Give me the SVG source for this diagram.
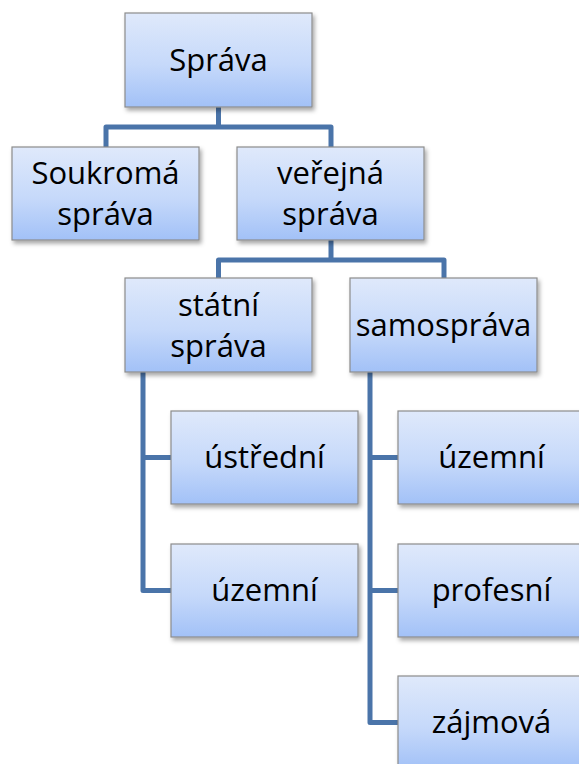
<svg xmlns="http://www.w3.org/2000/svg" width="579" height="764" viewBox="0 0 579 764">
<defs>
<linearGradient id="g" x1="0" y1="0" x2="0" y2="1">
<stop offset="0" stop-color="#dfe9fb"/>
<stop offset="0.55" stop-color="#c6d9fa"/>
<stop offset="1" stop-color="#a2c1f7"/>
</linearGradient>
<filter id="sh" x="-10%" y="-10%" width="125%" height="130%">
<feDropShadow dx="2" dy="3" stdDeviation="2" flood-color="#000" flood-opacity="0.35"/>
</filter>
</defs>
<style>
.box{fill:url(#g);stroke:#8c8c8c;stroke-width:1.2;filter:url(#sh)}
.t{font-family:"Open Sans","Noto Sans","Liberation Sans",sans-serif;font-size:31px;fill:#000;text-anchor:middle}
.c{fill:none;stroke:#4a74a9;stroke-width:5;stroke-linejoin:round}
</style>
<rect width="579" height="764" fill="#fff"/>
<g id="connectors">
<path class="c" d="M218.5,107 V127 H106 V147 M218.5,127 H331 V147"/>
<path class="c" d="M331,240 V260 H218.5 V278 M331,260 H444 V278"/>
<path class="c" d="M143,372 V590.5 H171 M143,457.5 H171"/>
<path class="c" d="M370,372 V722.5 H398 M370,457.5 H398 M370,590.5 H398"/>
</g>
<g id="n-sprava"><rect class="box" x="125" y="13" width="187" height="94"/><text class="t" x="218.5" y="71">Správa</text></g>
<g id="n-soukroma"><rect class="box" x="12" y="147" width="187" height="93"/><text class="t" x="105.5" y="184">Soukromá</text><text class="t" x="105.5" y="225">správa</text></g>
<g id="n-verejna"><rect class="box" x="237" y="147" width="187" height="93"/><text class="t" x="330.5" y="184">veřejná</text><text class="t" x="330.5" y="225">správa</text></g>
<g id="n-statni"><rect class="box" x="125" y="278" width="187" height="94"/><text class="t" x="218.5" y="316">státní</text><text class="t" x="218.5" y="357">správa</text></g>
<g id="n-samosprava"><rect class="box" x="350" y="278" width="187" height="94"/><text class="t" x="443.5" y="336">samospráva</text></g>
<g id="n-ustredni"><rect class="box" x="171" y="411" width="187" height="93"/><text class="t" x="264.5" y="468">ústřední</text></g>
<g id="n-uzemni1"><rect class="box" x="171" y="544" width="187" height="93"/><text class="t" x="264.5" y="601">územní</text></g>
<g id="n-uzemni2"><rect class="box" x="398" y="411" width="187" height="93"/><text class="t" x="491.5" y="468">územní</text></g>
<g id="n-profesni"><rect class="box" x="398" y="544" width="187" height="93"/><text class="t" x="491.5" y="601">profesní</text></g>
<g id="n-zajmova"><rect class="box" x="398" y="676" width="187" height="93"/><text class="t" x="491.5" y="733">zájmová</text></g>
</svg>
